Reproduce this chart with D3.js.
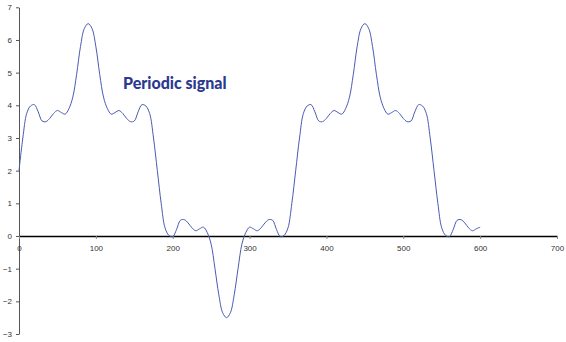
<!DOCTYPE html>
<html>
<head>
<meta charset="utf-8">
<script src="https://cdn.jsdelivr.net/npm/d3@7"></script>
<style>
  body { margin: 0; background: #fff; }
  svg text { font-family: "Liberation Sans", Arial, sans-serif; }
</style>
</head>
<body>
<svg id="chart" width="566" height="342"></svg>
<script>
// sample positions, every 5 units from 0 to 600
var xs = d3.range(0, 601, 5);

// signal values, one per sample position
var signal = [
  2.0, 3.0, 3.75, 3.98, 4.02, 3.8, 3.52, 3.5, 3.6, 3.75,
  3.84, 3.78, 3.73, 3.9, 4.25, 4.95, 5.8, 6.35, 6.5, 6.35,
  5.8, 4.95, 4.25, 3.9, 3.73, 3.78, 3.84, 3.75, 3.6, 3.5,
  3.52, 3.8, 4.02, 3.98, 3.75, 3.0, 2.0, 1.0, 0.25, 0.02,
  -0.02, 0.2, 0.48, 0.5, 0.4, 0.25, 0.16, 0.22, 0.27, 0.1,
  -0.25, -1.0, -1.8, -2.35, -2.5, -2.35, -1.8, -1.0, -0.25, 0.1,
  0.27, 0.22, 0.16, 0.25, 0.4, 0.5, 0.48, 0.2, -0.02, 0.02,
  0.25, 1.0, 2.0, 3.0, 3.75, 3.98, 4.02, 3.8, 3.52, 3.5,
  3.6, 3.75, 3.84, 3.78, 3.73, 3.9, 4.25, 4.95, 5.8, 6.35,
  6.5, 6.35, 5.8, 4.95, 4.25, 3.9, 3.73, 3.78, 3.84, 3.75,
  3.6, 3.5, 3.52, 3.8, 4.02, 3.98, 3.75, 3.0, 2.0, 1.0,
  0.25, 0.02, -0.02, 0.2, 0.48, 0.5, 0.4, 0.25, 0.16, 0.22,
  0.27
];

var xTicks = [0, 100, 200, 300, 400, 500, 600, 700];
var yTicks = [-3, -2, -1, 0, 1, 2, 3, 4, 5, 6, 7];
var title = "Periodic signal";

var svg = d3.select("#chart");

var x = d3.scaleLinear().domain([0, 700]).range([19, 557]);
var y = d3.scaleLinear().domain([-3, 7]).range([334, 7.3]);

// y axis at x = 0
var yAxis = d3.axisLeft(y)
  .tickValues(yTicks)
  .tickSize(3)
  .tickSizeOuter(0)
  .tickPadding(4);

var gy = svg.append("g")
  .attr("transform", "translate(" + x(0) + ",0)")
  .call(yAxis);
gy.select(".domain").attr("stroke", "#555");
gy.selectAll(".tick line").attr("stroke", "#555");
gy.selectAll("text").attr("font-size", 8).attr("fill", "#333");

// x axis at y = 0
var xAxis = d3.axisBottom(x)
  .tickValues(xTicks)
  .tickSize(3)
  .tickSizeOuter(0)
  .tickPadding(6);

var gx = svg.append("g")
  .attr("transform", "translate(0," + y(0) + ")")
  .call(xAxis);
gx.select(".domain").attr("stroke", "#000").attr("stroke-width", 1.5);
gx.selectAll(".tick line").attr("stroke", "#888");
gx.selectAll("text").attr("font-size", 8).attr("fill", "#333");

var line = d3.line()
  .x((d, i) => x(xs[i]))
  .y((d) => y(d))
  .curve(d3.curveCatmullRom.alpha(0.5));

svg.append("path")
  .datum(signal)
  .attr("d", line)
  .attr("fill", "none")
  .attr("stroke", "#4a5bb0")
  .attr("stroke-width", 1);

svg.append("text")
  .attr("x", 123)
  .attr("y", 89)
  .attr("font-weight", 900)
  .attr("font-size", 16)
  .attr("fill", "#2b3990")
  .style("font-family", "Lato, 'Open Sans', sans-serif")
  .text(title);
</script>
</body>
</html>
